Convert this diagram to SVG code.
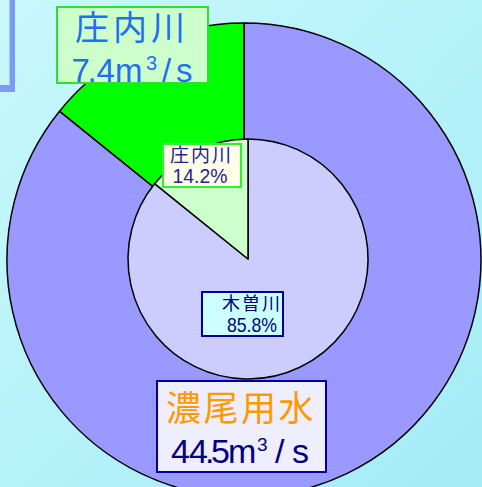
<svg xmlns="http://www.w3.org/2000/svg" width="482" height="487" viewBox="0 0 482 487">
<defs>
<linearGradient id="bg" x1="0" y1="0" x2="1" y2="1">
<stop offset="0" stop-color="#C8F8FC"/>
<stop offset="0.5" stop-color="#B6F2FA"/>
<stop offset="1" stop-color="#A4EBF6"/>
</linearGradient>
<style>
.slice{stroke:#000;stroke-width:1.5;stroke-linejoin:round}
.t{font-family:"Liberation Sans","Noto Sans CJK JP",sans-serif}
</style>
</defs>
<rect width="482" height="487" fill="url(#bg)"/>
<g id="frame" fill="#7D9BF5">
<rect x="9.5" y="0" width="5.5" height="92"/>
<rect x="0" y="85" width="15" height="7"/>
</g>
<g id="outer-pie">
<path class="slice" d="M244,260 L59.5,111.2 A237,237 0 1,0 244,23 Z" fill="#9999FF"/>
<path class="slice" d="M244,260 L244,23 A237,237 0 0,0 59.5,111.2 Z" fill="#00FF00"/>
</g>
<g id="inner-pie">
<path class="slice" d="M248,259 L154.6,183.7 A120,120 0 1,0 248,139 Z" fill="#CCCCFF"/>
<path class="slice" d="M248,259 L248,139 A120,120 0 0,0 154.6,183.7 Z" fill="#CCFFCC"/>
</g>
<g id="label-shonai-flow">
<rect x="57" y="7" width="151" height="76" fill="#CCFFCC" stroke="#33DD33" stroke-width="2"/>
<text class="t" x="75" y="39.5" font-size="34" letter-spacing="4" fill="#1F6FEF">庄内川</text>
<text class="t" y="82" font-size="33" fill="#1F6FEF"><tspan x="71.5 87.5 96.5 115">7.4m</tspan><tspan x="146" y="69.5" font-size="20">3</tspan><tspan x="162 176" y="82">/s</tspan></text>
</g>
<g id="label-shonai-pct">
<rect x="163" y="144" width="78" height="43" fill="#FFFFE8" stroke="#33EE33" stroke-width="2"/>
<text class="t" x="170" y="161.5" font-size="19" letter-spacing="2" fill="#222299">庄内川</text>
<text class="t" x="172.5" y="183.3" font-size="21" textLength="55" lengthAdjust="spacingAndGlyphs" fill="#222299">14.2%</text>
</g>
<g id="label-kiso-pct">
<rect x="202" y="292" width="81" height="44" fill="#CCFFFF" stroke="#000099" stroke-width="2"/>
<text class="t" x="222" y="310.4" font-size="18" letter-spacing="2" fill="#000080">木曽川</text>
<text class="t" x="227" y="331.7" font-size="21" textLength="50" lengthAdjust="spacingAndGlyphs" fill="#000080">85.8%</text>
</g>
<g id="label-nobi-flow">
<rect x="157" y="381" width="169" height="91" fill="#EEEEFF" stroke="#000099" stroke-width="2"/>
<text class="t" x="166" y="420.5" font-size="35" letter-spacing="2.5" fill="#FF9900">濃尾用水</text>
<text class="t" y="462.7" font-size="34" fill="#000080"><tspan x="171 189 205 211 228">44.5m</tspan><tspan x="257" y="450.5" font-size="19">3</tspan><tspan x="275 292" y="462.7">/s</tspan></text>
</g>
<g id="connectors"/>
</svg>
